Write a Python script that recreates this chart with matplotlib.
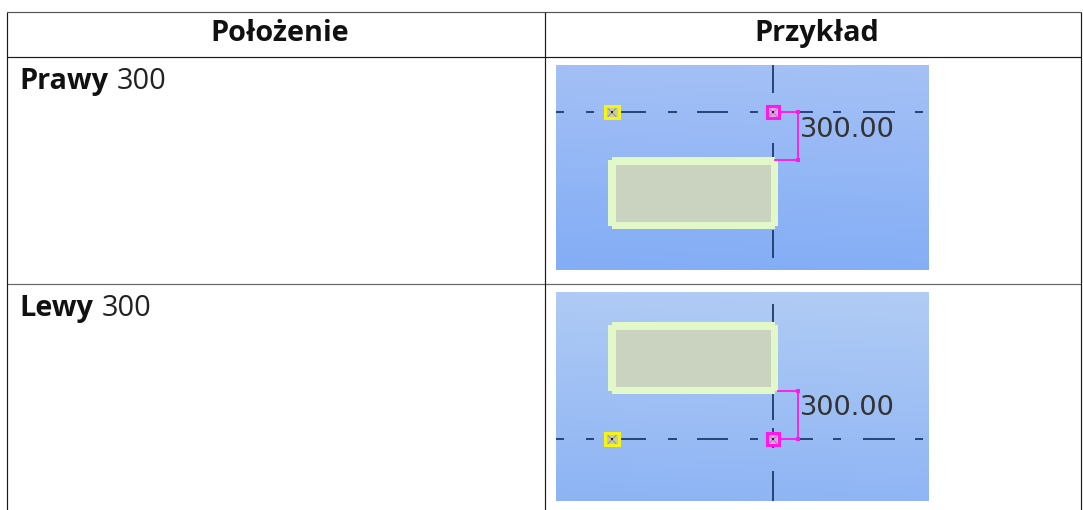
import numpy as np
import matplotlib
matplotlib.use("Agg")
import matplotlib.pyplot as plt
from matplotlib.patches import Rectangle, Polygon

headers = ["Położenie", "Przykład"]
row_names = ["Prawy", "Lewy"]
row_values = ["300", "300"]
dim_label = "300.00"

W, H = 1083, 510
fig = plt.figure(figsize=((W + 0.01) / 100, (H + 0.01) / 100), dpi=100)
ax = fig.add_axes([0, 0, 1, 1])
ax.axis("off")

FONT = "Open Sans"
FS = 20.8
LC = "#1a1a1a"

def hl(y, x0=6.5, x1=1081, c=LC):
    ax.plot([x0, x1], [y, y], color=c, lw=0.85, solid_capstyle="butt")

def vl(x, y0=12, y1=510, c=LC):
    ax.plot([x, x], [y0, y1], color=c, lw=0.85, solid_capstyle="butt")

hl(12.5, c="#555555"); hl(57.5); hl(284.5, c="#666666")
vl(7); vl(545); vl(1081)

ax.text(280, 33.5, headers[0], ha="center", va="center", family=FONT, weight="bold", fontsize=FS, color="#111111")
ax.text(817, 33.5, headers[1], ha="center", va="center", family=FONT, weight="bold", fontsize=FS, color="#111111")

def label(y, name, val, xval):
    ax.text(19.5, y, name, ha="left", va="baseline", family=FONT, weight="bold", fontsize=FS, color="#111111")
    ax.text(xval, y, val, ha="left", va="baseline", family=FONT, fontsize=FS, color="#222222")

label(89, row_names[0], row_values[0], 117)
label(316, row_names[1], row_values[1], 102)

DARK = "#1d3a6b"
MAG = "#ff18e8"
YEL = "#f4f41a"

def panel(top, bot, c_top, c_bot, hy, vsegs, rect_y, text_y, mag_bot):
    c0 = np.array(matplotlib.colors.to_rgb(c_top))
    c1 = np.array(matplotlib.colors.to_rgb(c_bot))
    yy, xx = np.mgrid[0:1:64j, 0:1:64j]
    t = np.clip(yy * 0.94 + (0.5 - xx) * 0.06 + 0.03, 0, 1)[..., None]
    ax.imshow(c0 + (c1 - c0) * t, extent=(556, 928.6, bot, top), aspect="auto", zorder=1, interpolation="bilinear")
    for x0, x1 in [(556, 564), (586, 594), (620, 646), (668, 677), (697, 728), (750, 758),
                   (800, 813), (833, 841), (863, 895), (915, 923)]:
        ax.plot([x0, x1], [hy, hy], color=DARK, lw=1.3, solid_capstyle="butt", zorder=2)
    for y0, y1 in vsegs:
        ax.plot([773.3, 773.3], [y0, y1], color=DARK, lw=1.3, solid_capstyle="butt", zorder=2)
    ry0, ry1 = rect_y
    pts = [(612, ry0), (775, ry0), (775, ry0 + 3), (778, ry0 + 3), (778, ry1 - 3), (775, ry1 - 3),
           (775, ry1), (612, ry1), (612, ry1 - 3), (608, ry1 - 3), (608, ry0 + 3), (612, ry0 + 3)]
    ax.add_patch(Polygon(pts, closed=True, fc="#e2f8c8", ec="none", zorder=3))
    ax.add_patch(Rectangle((616, ry0 + 8), 155, ry1 - ry0 - 15.5, fc="#c9d3bf", ec="none", zorder=4))
    for cx, w, c, fill in [(612, 13.5, YEL, "#c9cfa0"), (773, 12, MAG, "#e79cf0")]:
        ax.add_patch(Rectangle((cx - w / 2, hy - 6), w, 12, fc=fill, ec=c, lw=2.2, zorder=5))
        ax.plot([cx - 4, cx + 4], [hy - 4, hy + 4], color="#8a8a8a", lw=0.6, zorder=5)
        ax.plot([cx - 4, cx + 4], [hy + 4, hy - 4], color="#8a8a8a", lw=0.6, zorder=5)
        ax.plot([cx], [hy], marker="s", ms=1.6, color="#222222", mew=0, zorder=5)
    ax.plot([780, 798, 798, mag_bot[0]], [hy, hy, mag_bot[1], mag_bot[1]],
            color=MAG, lw=1.3, zorder=6, solid_joinstyle="miter")
    ax.plot([798], [hy], marker="s", ms=2.2, color=MAG, mew=0, zorder=6)
    ax.plot([798], [mag_bot[1]], marker="s", ms=2.2, color=MAG, mew=0, zorder=6)
    ax.text(800, text_y, dim_label, ha="left", va="baseline", family="DejaVu Sans", fontsize=19.6,
            color="#333333", zorder=6)

panel(65.5, 270, "#a5c1f6", "#83adf5", 112.5,
      [(65.5, 93), (107, 118), (143, 158), (230, 258)], (157, 229.5), 137, (775, 160.5))
panel(292.5, 501, "#b1ccf5", "#8eb4f4", 439.5,
      [(304, 322), (393, 420), (428, 448), (471, 501)], (322, 394.5), 415, (778, 391))

ax.set_xlim(0, W)
ax.set_ylim(H, 0)
fig.savefig("out.png", dpi=100, facecolor="white")
